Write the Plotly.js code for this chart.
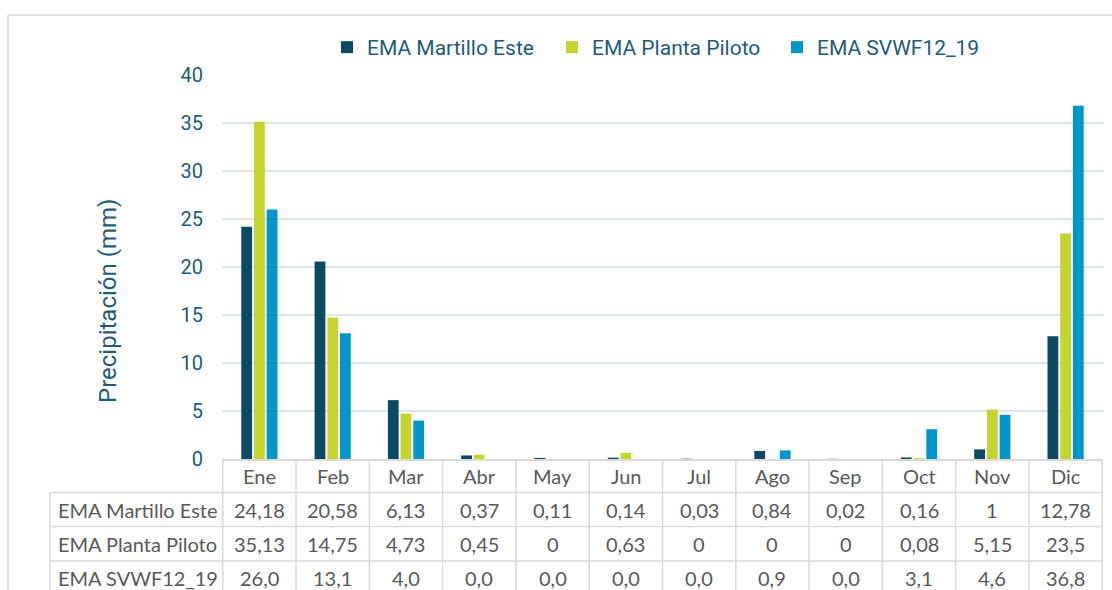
<!DOCTYPE html>
<html>
<head>
<meta charset="utf-8">
<script src="https://cdn.plot.ly/plotly-3.0.1.min.js"></script>
<style>
html,body{margin:0;padding:0;background:#fff;}
#chart{width:1112px;height:590px;}
</style>
</head>
<body>
<div id="chart"></div>
<script>
// ---- data ----
var months = ['Ene','Feb','Mar','Abr','May','Jun','Jul','Ago','Sep','Oct','Nov','Dic'];
var seriesNames = ['EMA Martillo Este','EMA Planta Piloto','EMA SVWF12_19'];
var martillo = [24.18,20.58,6.13,0.37,0.11,0.14,0.03,0.84,0.02,0.16,1,12.78];
var planta   = [35.13,14.75,4.73,0.45,0,0.63,0,0,0,0.08,5.15,23.5];
var svwf     = [26.0,13.1,4.0,0.0,0.0,0.0,0.0,0.9,0.0,3.1,4.6,36.8];
var yTicks   = [0,5,10,15,20,25,30,35,40];

// ---- styles ----
var colors = ['#0b4a63','#c6d42f','#0096c9'];
var textBlue = '#1d5c7a';
var gridCol = '#dde5ea';
var tableLine = '#d9d9d9';
var tableText = '#595959';
var tableFont = 'Lato, "Open Sans", sans-serif';
var tableSize = 20;

var W = 1112, H = 590;
var mL = 222, mR = 9, mT = 75, mB = 131;
var plotW = W - mL - mR, plotH = H - mT - mB;
function px2py(y){ return (H - mB - y) / plotH; }   // pixel y -> paper y
function px2px(x){ return (x - mL) / plotW; }       // pixel x -> paper x

var values = [martillo, planta, svwf];
var fmts = [
  function(v){ return String(v).replace('.', ','); },
  function(v){ return String(v).replace('.', ','); },
  function(v){ return v.toFixed(1).replace('.', ','); }
];

var traces = values.map(function(vals, k){
  return {
    type:'bar', name: seriesNames[k], x: months, y: vals,
    marker:{color: colors[k]},
    hoverinfo:'x+y+name'
  };
});

var shapes = [];
var annotations = [];
var rowLineY = [px2py(492.5), px2py(526.5), px2py(561)];
var bottomY = px2py(600);
var tableLeft = px2px(50);

rowLineY.forEach(function(y){
  shapes.push({type:'line', xref:'paper', yref:'paper', x0:tableLeft, x1:1, y0:y, y1:y,
    line:{color:tableLine, width:1.5}});
});
for (var i = 0; i <= months.length; i++) {
  shapes.push({type:'line', xref:'x', yref:'paper', x0:i-0.5, x1:i-0.5, y0:0, y1:bottomY,
    line:{color:tableLine, width:1.5}});
}
shapes.push({type:'line', xref:'paper', yref:'paper', x0:tableLeft, x1:tableLeft, y0:rowLineY[0], y1:bottomY,
  line:{color:tableLine, width:1.5}});
var frameX = px2px(8), frameY = px2py(15);
shapes.push({type:'line', xref:'paper', yref:'paper', x0:frameX, x1:px2px(1115), y0:frameY, y1:frameY,
  line:{color:tableLine, width:1.5}});
shapes.push({type:'line', xref:'paper', yref:'paper', x0:frameX, x1:frameX, y0:frameY, y1:bottomY,
  line:{color:tableLine, width:1.5}});

var headerY = px2py(476);
months.forEach(function(m){
  annotations.push({xref:'x', yref:'paper', x:m, y:headerY, text:m, showarrow:false,
    xanchor:'center', yanchor:'middle', font:{family:tableFont, size:tableSize, color:tableText}});
});
var rowTextY = [px2py(509.5), px2py(544), px2py(578)];
values.forEach(function(vals, k){
  annotations.push({xref:'paper', yref:'paper', x:px2px(56), y:rowTextY[k], text:seriesNames[k],
    showarrow:false, xanchor:'left', yanchor:'middle', font:{family:tableFont, size:tableSize, color:tableText}});
  vals.forEach(function(v, i){
    annotations.push({xref:'x', yref:'paper', x:months[i], y:rowTextY[k], text:fmts[k](v),
      showarrow:false, xanchor:'center', yanchor:'middle', font:{family:tableFont, size:tableSize, color:tableText}});
  });
});
annotations.push({xref:'paper', yref:'paper', x:px2px(108), y:px2py(301), text:'Precipitación (mm)',
  textangle:-90, showarrow:false, xanchor:'center', yanchor:'middle',
  font:{family:'Roboto, sans-serif', size:24, color:textBlue}});

var layout = {
  width:W, height:H,
  margin:{l:mL, r:mR, t:mT, b:mB, pad:0},
  paper_bgcolor:'#ffffff', plot_bgcolor:'#ffffff',
  barmode:'group', bargap:0.48, bargroupgap:0.15,
  font:{family:'Roboto, sans-serif', color:textBlue},
  showlegend:true,
  legend:{orientation:'h', x:px2px(327), y:px2py(27), xanchor:'left', yanchor:'top',
    entrywidth:180, entrywidthmode:'pixels',
    font:{family:'Roboto, sans-serif', size:21, color:textBlue}, bgcolor:'rgba(0,0,0,0)'},
  xaxis:{type:'category', showticklabels:false, ticks:'', showgrid:false, zeroline:false,
    showline:true, linecolor:tableLine, linewidth:1.5, fixedrange:true},
  yaxis:{range:[0,40], tickvals:yTicks, ticktext:yTicks.map(String), showgrid:true, gridcolor:gridCol, gridwidth:1.5,
    zeroline:false, showline:false, ticks:'', ticklen:0, tickfont:{family:'Roboto, sans-serif', size:20, color:textBlue},
    ticklabelstandoff:18, fixedrange:true},
  shapes:shapes,
  annotations:annotations
};

Plotly.newPlot('chart', traces, layout, {displayModeBar:false, staticPlot:true});
</script>
</body>
</html>
